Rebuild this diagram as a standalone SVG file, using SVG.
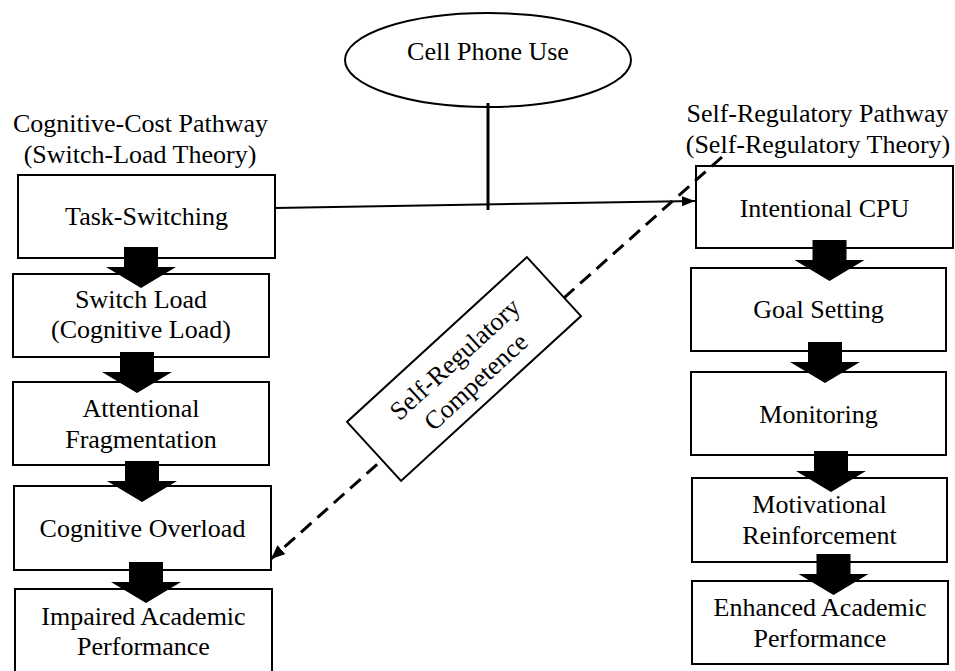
<svg xmlns="http://www.w3.org/2000/svg" width="955" height="671" viewBox="0 0 955 671">
<style>
text{font-family:'Liberation Serif',serif;font-size:26px;fill:#000;text-anchor:middle}
.box{fill:#fff;stroke:#000;stroke-width:2}
.blk{fill:#000}
.ln{stroke:#000;stroke-width:2;fill:none}
.dash{stroke:#000;stroke-width:3;fill:none;stroke-dasharray:14 8}
</style>
<defs>
<marker id="ah" markerUnits="userSpaceOnUse" markerWidth="14" markerHeight="12" refX="13" refY="5" orient="auto"><path d="M0,0 L13,5 L0,10 z" fill="#000"/></marker>
<marker id="ah2" markerUnits="userSpaceOnUse" markerWidth="16" markerHeight="14" refX="14" refY="6" orient="auto"><path d="M0,0 L14,6 L0,12 z" fill="#000"/></marker>
<path id="blk" d="M-17,-41 L17,-41 L17,-21 L35,-21 L0,0 L-35,-21 L-17,-21 z"/>
</defs>
<rect width="955" height="671" fill="#fff"/>
<g id="cell-phone-use"><ellipse cx="488" cy="60" rx="143" ry="47" class="ln"/><text x="488" y="60">Cell Phone Use</text></g>
<g id="header-left"><text x="140.5" y="132">Cognitive-Cost Pathway</text><text x="140" y="163">(Switch-Load Theory)</text></g>
<g id="header-right"><text x="817.5" y="122">Self-Regulatory Pathway</text><text x="818" y="153">(Self-Regulatory Theory)</text></g>
<g id="task-switching"><rect class="box" x="18" y="175" width="257" height="83"/><text x="146.5" y="225">Task-Switching</text></g>
<g id="switch-load"><rect class="box" x="13" y="274" width="256" height="83"/><text x="141" y="308">Switch Load</text><text x="141" y="338">(Cognitive Load)</text></g>
<g id="attentional-fragmentation"><rect class="box" x="13" y="382" width="256" height="83"/><text x="141" y="417">Attentional</text><text x="141" y="448">Fragmentation</text></g>
<g id="cognitive-overload"><rect class="box" x="14" y="486" width="257" height="84"/><text x="142.5" y="537">Cognitive Overload</text></g>
<g id="impaired-performance"><rect class="box" x="15" y="589" width="257" height="100"/><text x="143.5" y="625">Impaired Academic</text><text x="143.5" y="655">Performance</text></g>
<g id="intentional-cpu"><rect class="box" x="696" y="166" width="257" height="82"/><text x="824.5" y="217">Intentional CPU</text></g>
<g id="goal-setting"><rect class="box" x="691" y="268" width="255" height="83"/><text x="818.5" y="318">Goal Setting</text></g>
<g id="monitoring"><rect class="box" x="691" y="372" width="255" height="83"/><text x="818.5" y="423">Monitoring</text></g>
<g id="motivational-reinforcement"><rect class="box" x="692" y="478" width="255" height="84"/><text x="819.5" y="513">Motivational</text><text x="819.5" y="544">Reinforcement</text></g>
<g id="enhanced-performance"><rect class="box" x="692" y="581" width="256" height="83"/><text x="820" y="616">Enhanced Academic</text><text x="820" y="647">Performance</text></g>
<g id="connectors">
<line class="ln" x1="275" y1="208" x2="695" y2="201" marker-end="url(#ah)"/>
<line x1="488" y1="103" x2="488" y2="210" stroke="#000" stroke-width="3"/>
<line class="dash" x1="722" y1="157" x2="271" y2="559" marker-end="url(#ah2)"/>
<use href="#blk" class="blk" transform="translate(141,288)"/>
<use href="#blk" class="blk" transform="translate(137,393)"/>
<use href="#blk" class="blk" transform="translate(142,502)"/>
<use href="#blk" class="blk" transform="translate(146,603)"/>
<use href="#blk" class="blk" transform="translate(829.5,281)"/>
<use href="#blk" class="blk" transform="translate(825,383)"/>
<use href="#blk" class="blk" transform="translate(831,492)"/>
<use href="#blk" class="blk" transform="translate(833.5,595)"/>
</g>
<g id="self-regulatory-competence" transform="translate(464,369) rotate(-42.5)"><rect class="box" x="-122" y="-40" width="244" height="80"/><text x="0" y="-5">Self-Regulatory</text><text x="0" y="26">Competence</text></g>
</svg>
